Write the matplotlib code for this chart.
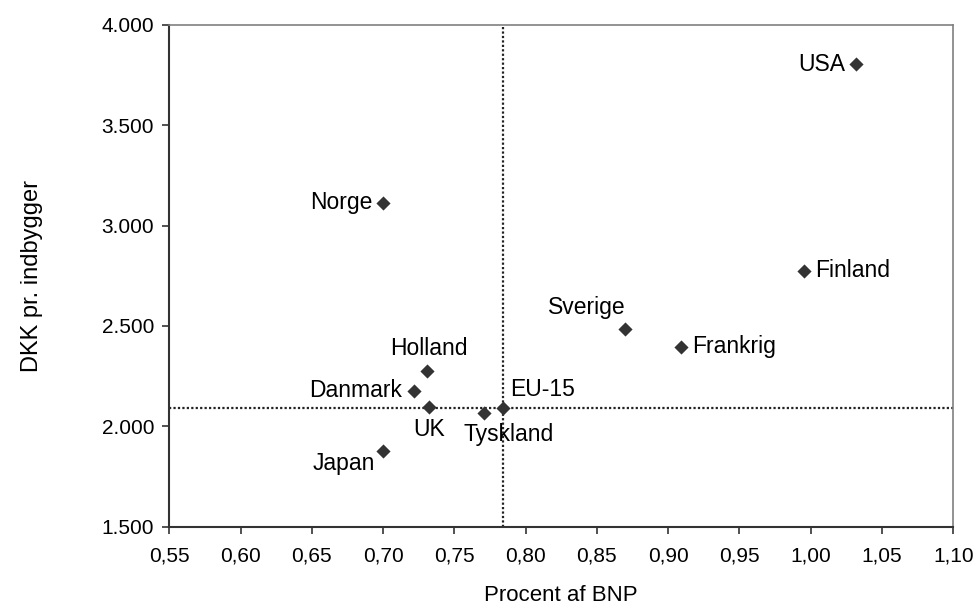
import matplotlib
matplotlib.use('Agg')
import matplotlib.pyplot as plt
from matplotlib.ticker import FuncFormatter, MultipleLocator

plt.rcParams['font.family'] = ['Liberation Sans', 'DejaVu Sans']

# data
countries = ['Norge', 'USA', 'Finland', 'Sverige', 'Frankrig', 'EU-15',
             'Tyskland', 'Holland', 'Danmark', 'UK', 'Japan']
pct_bnp = [0.700, 1.032, 0.995, 0.870, 0.909, 0.784,
           0.771, 0.731, 0.722, 0.732, 0.700]
dkk_per_capita = [3114, 3803, 2775, 2485, 2396, 2090,
                  2065, 2275, 2177, 2098, 1877]
eu_x = 0.784
eu_y = 2093

# label offsets in points and alignment, per country
label_pos = {
    'Norge': ((-8, 0), 'right', 'center'),
    'USA': ((-8, 0), 'right', 'center'),
    'Finland': ((8, 0), 'left', 'center'),
    'Sverige': ((0, 7), 'right', 'bottom'),
    'Frankrig': ((8, 0), 'left', 'center'),
    'EU-15': ((5, 5), 'left', 'bottom'),
    'Tyskland': ((-15, -7), 'left', 'top'),
    'Holland': ((1, 8), 'center', 'bottom'),
    'Danmark': ((-9, 0), 'right', 'center'),
    'UK': ((0, -8), 'center', 'top'),
    'Japan': ((-6, -1), 'right', 'top'),
}

fig = plt.figure(figsize=(9.76, 6.09), dpi=100)
ax = fig.add_axes([169.3 / 976, 1 - 526.7 / 609, 784 / 976, 502 / 609])

ax.axvline(eu_x, color='#222222', linestyle=(0, (1, 1)), linewidth=1.6, zorder=1)
ax.axhline(eu_y, color='#222222', linestyle=(0, (1, 1)), linewidth=1.6, zorder=1)

ax.scatter(pct_bnp, dkk_per_capita, marker='D', s=52, color='#333333',
           zorder=3, linewidths=0)

for name, x, y in zip(countries, pct_bnp, dkk_per_capita):
    off, ha, va = label_pos[name]
    ax.annotate(name, (x, y), xytext=off, textcoords='offset points',
                ha=ha, va=va, fontsize=16.5, color='black')

ax.set_xlim(0.55, 1.10)
ax.set_ylim(1500, 4000)
ax.xaxis.set_major_locator(MultipleLocator(0.05))
ax.yaxis.set_major_locator(MultipleLocator(500))
ax.xaxis.set_major_formatter(FuncFormatter(lambda v, p: f'{v:.2f}'.replace('.', ',')))
ax.yaxis.set_major_formatter(FuncFormatter(lambda v, p: f'{v:,.0f}'.replace(',', '.')))

ax.tick_params(axis='both', direction='out', length=5, width=1.2,
               color='#333333', labelsize=15, pad=6)
ax.tick_params(axis='x', pad=9)

for side in ['left', 'bottom']:
    ax.spines[side].set_color('#333333')
    ax.spines[side].set_linewidth(1.5)
for side in ['top', 'right']:
    ax.spines[side].set_color('#808080')
    ax.spines[side].set_linewidth(1.2)

ax.set_xlabel('Procent af BNP', fontsize=16, labelpad=14)
ax.set_ylabel('DKK pr. indbygger', fontsize=17, labelpad=42)

fig.savefig('out.png', dpi=100)
